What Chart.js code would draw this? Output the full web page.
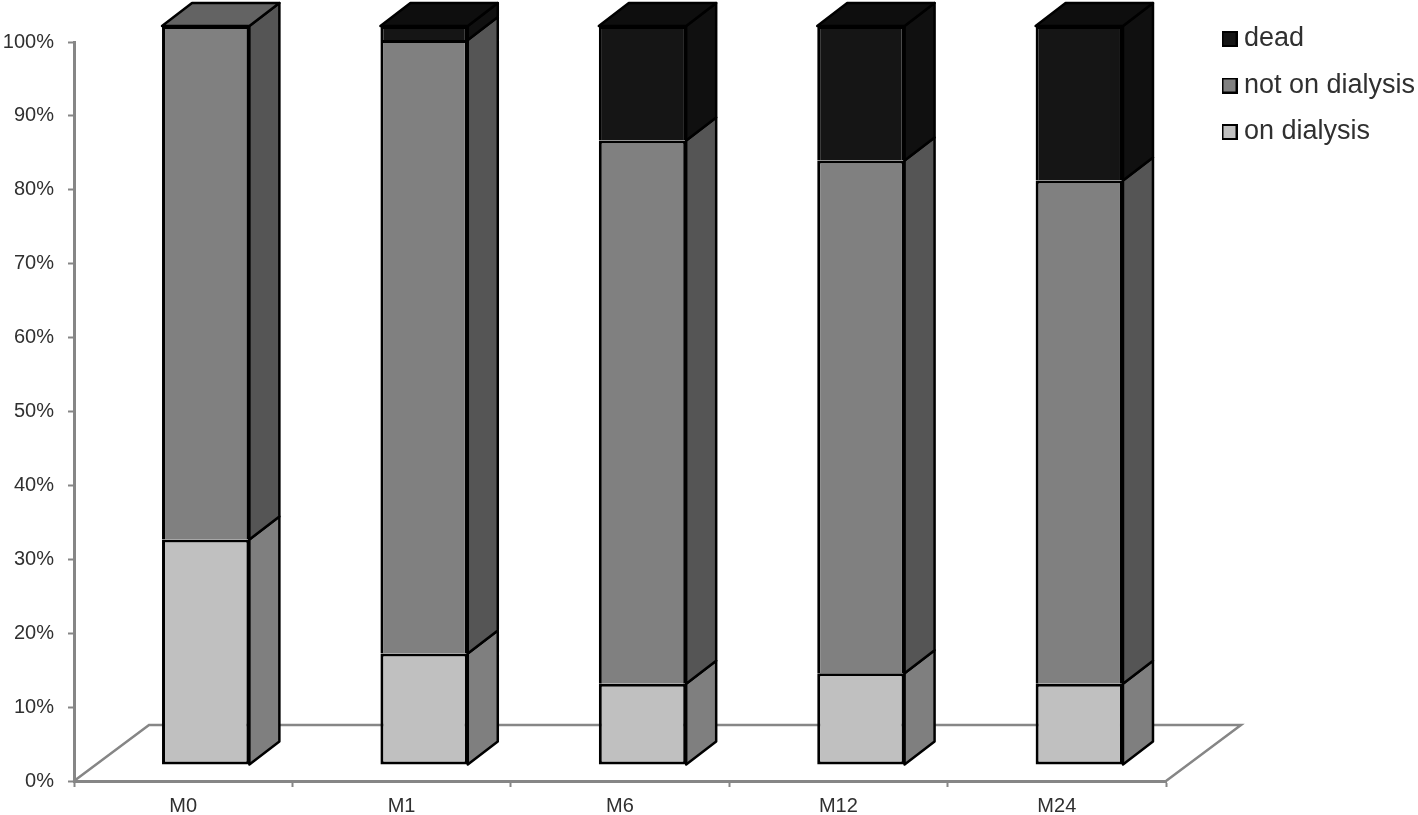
<!DOCTYPE html>
<html>
<head>
<meta charset="utf-8">
<title>Dialysis status</title>
<style>
  html, body { margin: 0; padding: 0; background: #fff; }
  canvas { display: block; }
</style>
<script src="https://cdn.jsdelivr.net/npm/chart.js@4/dist/chart.umd.min.js"></script>
</head>
<body>
<canvas id="statusChart" width="1418" height="815"></canvas>
<script>
const months = ['M0', 'M1', 'M6', 'M12', 'M24'];
const onDialysis = [30.5, 15.1, 11.0, 12.4, 11.0];
const notOnDialysis = [69.5, 83.0, 73.5, 69.4, 68.1];
const dead = [0, 1.9, 15.5, 18.2, 20.9];

// fake 3d: bars sit in front of the axis plane, box goes back up and to the right
const SHIFT_X = 22.5, SHIFT_Y = -16;
const BOX_X = 30, BOX_Y = 23;
const FLOOR_X = 75, FLOOR_Y = 56;
const AXIS_GREY = '#868686';

function face(ctx, pts, fill) {
  ctx.beginPath();
  pts.forEach((p, i) => i ? ctx.lineTo(p[0], p[1]) : ctx.moveTo(p[0], p[1]));
  ctx.closePath();
  ctx.fillStyle = fill;
  ctx.fill();
  ctx.stroke();
}

const box3d = {
  id: 'box3d',
  afterLayout(chart) {
    // legend sits right of the floor, not inside the plot
    chart.legend.left = 1209;
    chart.legend.right = 1418;
    chart.legend.top = 6;
    chart.legend.bottom = 300;
  },
  beforeDatasetsDraw(chart) {
    const { ctx, chartArea: a } = chart;
    ctx.save();
    ctx.strokeStyle = AXIS_GREY;
    ctx.lineWidth = 2.5;
    ctx.beginPath();
    ctx.moveTo(a.left, a.bottom);
    ctx.lineTo(a.left + FLOOR_X, a.bottom - FLOOR_Y);
    ctx.lineTo(a.right + FLOOR_X, a.bottom - FLOOR_Y);
    ctx.lineTo(a.right, a.bottom);
    ctx.stroke();
    ctx.restore();

    ctx.save();
    ctx.translate(SHIFT_X, SHIFT_Y);
  },
  afterDatasetsDraw(chart) {
    const { ctx } = chart;
    ctx.strokeStyle = '#000';
    ctx.lineWidth = 2.5;
    ctx.lineJoin = 'round';
    chart.data.datasets.forEach((ds, d) => {
      chart.getDatasetMeta(d).data.forEach((bar, i) => {
        if (!ds.data[i]) return;
        const right = bar.x + bar.width / 2;
        const left = bar.x - bar.width / 2;
        face(ctx, [[right, bar.y], [right + BOX_X, bar.y - BOX_Y], [right + BOX_X, bar.base - BOX_Y], [right, bar.base]], ds.sideColor);
        const isTop = chart.data.datasets.slice(d + 1).every(o => !o.data[i]);
        if (isTop) {
          face(ctx, [[left, bar.y], [left + BOX_X, bar.y - BOX_Y], [right + BOX_X, bar.y - BOX_Y], [right, bar.y]], ds.topColor);
        }
      });
    });
    ctx.restore();
  }
};

function swatch(color) {
  const c = document.createElement('canvas');
  c.width = 16;
  c.height = 16;
  const g = c.getContext('2d');
  g.fillStyle = '#000';
  g.fillRect(0, 0, 16, 16);
  g.fillStyle = color;
  g.fillRect(2, 2, 12, 12);
  return c;
}

const tickFont = { family: '"Liberation Sans", Arial, sans-serif', size: 20 };

new Chart(document.getElementById('statusChart'), {
  type: 'bar',
  plugins: [box3d],
  data: {
    labels: months,
    datasets: [
      { label: 'on dialysis', data: onDialysis, backgroundColor: '#c0c0c0', sideColor: '#7f7f7f', topColor: '#a0a0a0', borderSkipped: false },
      { label: 'not on dialysis', data: notOnDialysis, backgroundColor: '#808080', sideColor: '#555555', topColor: '#636363', borderSkipped: 'bottom' },
      { label: 'dead', data: dead, backgroundColor: '#151515', sideColor: '#101010', topColor: '#0e0e0e', borderSkipped: 'bottom' }
    ]
  },
  options: {
    responsive: false,
    animation: false,
    layout: { padding: { top: 42, right: 252, left: 0, bottom: 0 } },
    datasets: {
      bar: {
        borderColor: '#000',
        borderWidth: 3,
        barPercentage: 0.4,
        categoryPercentage: 1,
        clip: false
      }
    },
    plugins: {
      tooltip: { enabled: false },
      legend: {
        position: 'chartArea',
        align: 'start',
        reverse: true,
        labels: {
          usePointStyle: true,
          pointStyleWidth: 2,
          boxHeight: 16,
          padding: 19.5,
          color: '#303030',
          font: { family: '"Liberation Sans", Arial, sans-serif', size: 27 },
          generateLabels(chart) {
            return Chart.defaults.plugins.legend.labels.generateLabels(chart).map(item => {
              item.pointStyle = swatch(item.fillStyle);
              return item;
            });
          }
        }
      }
    },
    scales: {
      x: {
        stacked: true,
        offset: true,
        grid: { drawOnChartArea: false, offset: true, tickLength: 6, tickColor: AXIS_GREY, tickWidth: 2 },
        border: { color: AXIS_GREY, width: 3 },
        ticks: { color: '#303030', font: tickFont, padding: 7, maxRotation: 0 },
        afterFit(scale) { scale.height = 34; }
      },
      y: {
        stacked: true,
        min: 0,
        max: 100,
        grid: { drawOnChartArea: false, tickLength: 6, tickColor: AXIS_GREY, tickWidth: 2 },
        border: { color: AXIS_GREY, width: 3 },
        ticks: {
          stepSize: 10,
          color: '#303030',
          font: tickFont,
          padding: 14,
          callback: value => value + '%'
        },
        afterFit(scale) { scale.width = 74; }
      }
    }
  }
});
</script>
</body>
</html>
